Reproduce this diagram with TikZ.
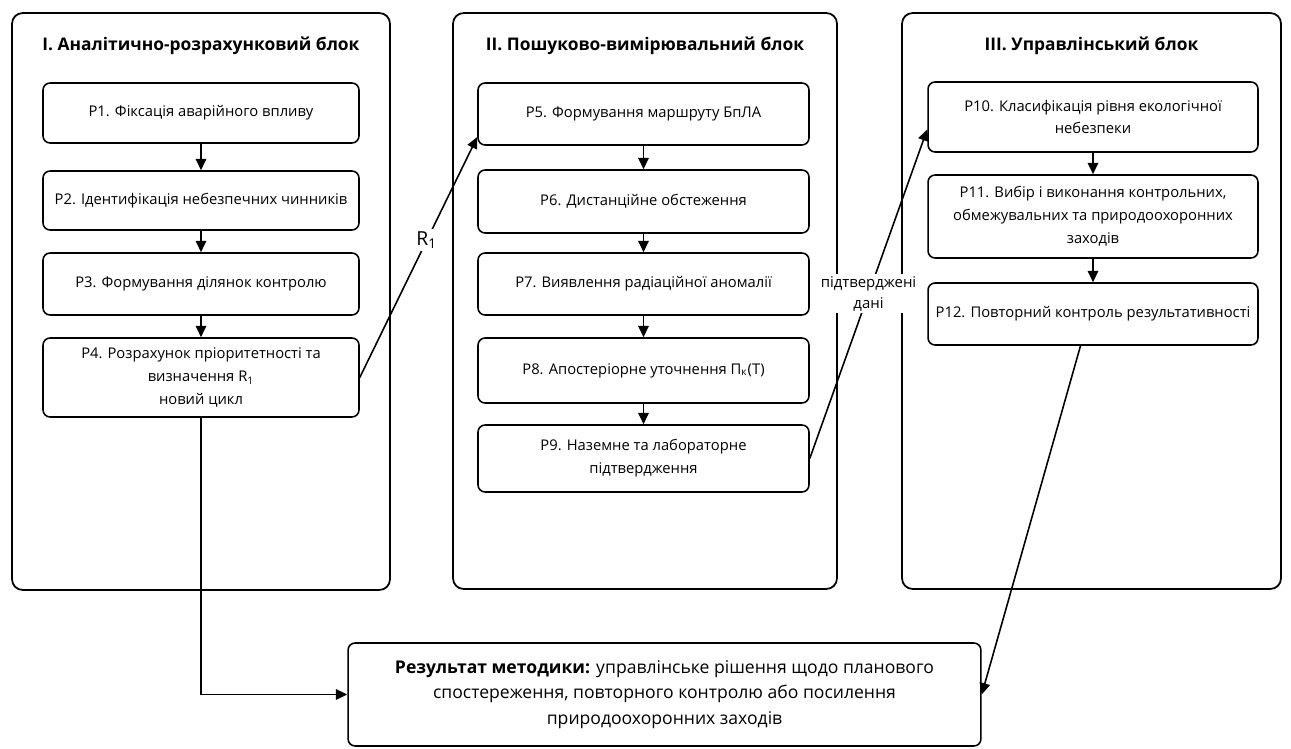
\documentclass[tikz,border=0pt]{standalone}
\usepackage{fontspec}
\setmainfont{Open Sans}
\usetikzlibrary{arrows.meta}
\tikzset{
  panel/.style={draw, line width=1pt, rounded corners=6pt, inner sep=0pt},
  proc/.style={draw, line width=0.9pt, rounded corners=4pt, align=center, inner sep=1pt,
    font=\fontsize{8.4}{13}\selectfont},
  ttl/.style={font=\bfseries\fontsize{9.9}{12}\selectfont},
  flow/.style={line width=0.9pt, -{Triangle[length=6.5pt,width=6pt]}},
  lbl/.style={fill=white, inner sep=1.5pt, align=center, font=\fontsize{8.5}{11.5}\selectfont}
}
\begin{document}
\begin{tikzpicture}[x=0.02cm, y=-0.02cm]
\useasboundingbox (0,0) rectangle (1291,749);
% blocks
\node[panel, minimum width=7.56cm, minimum height=11.54cm] (blk1) at (201,301.5) {};
\node[panel, minimum width=7.68cm, minimum height=11.52cm] (blk2) at (645,301) {};
\node[panel, minimum width=7.58cm, minimum height=11.52cm] (blk3) at (1091.5,301) {};
\node[ttl] (t1) at (201,46) {I. Аналітично-розрахунковий блок};
\node[ttl] (t2) at (645,46) {II. Пошуково-вимірювальний блок};
\node[ttl] (t3) at (1091.5,46) {III. Управлінський блок};
% block I
\node[proc, minimum width=6.32cm, minimum height=1.2cm] (p1) at (201,113) {P1. Фіксація аварійного впливу};
\node[proc, minimum width=6.32cm, minimum height=1.18cm] (p2) at (201,200.5) {P2. Ідентифікація небезпечних чинників};
\node[proc, minimum width=6.32cm, minimum height=1.24cm] (p3) at (201,284) {P3. Формування ділянок контролю};
\node[proc, minimum width=6.32cm, minimum height=1.58cm] (p4) at (201,377.5) {P4. Розрахунок пріоритетності та\\визначення R\textsubscript{1}\\новий цикл};
% block II
\node[proc, minimum width=6.62cm, minimum height=1.24cm] (p5) at (643.5,114) {P5. Формування маршруту БпЛА};
\node[proc, minimum width=6.62cm, minimum height=1.26cm] (p6) at (643.5,201.5) {P6. Дистанційне обстеження};
\node[proc, minimum width=6.62cm, minimum height=1.24cm] (p7) at (643.5,284) {P7. Виявлення радіаційної аномалії};
\node[proc, minimum width=6.62cm, minimum height=1.3cm] (p8) at (643.5,370.5) {P8. Апостеріорне уточнення П\textsubscript{к}(T)};
\node[proc, minimum width=6.62cm, minimum height=1.34cm] (p9) at (643.5,458.5) {P9. Наземне та лабораторне\\підтвердження};
% block III
\node[proc, minimum width=6.6cm, minimum height=1.4cm] (p10) at (1093,117) {P10. Класифікація рівня екологічної\\небезпеки};
\node[proc, minimum width=6.6cm, minimum height=1.66cm] (p11) at (1093,216.5) {P11. Вибір і виконання контрольних,\\обмежувальних та природоохоронних\\заходів};
\node[proc, minimum width=6.6cm, minimum height=1.24cm] (p12) at (1093,314) {P12. Повторний контроль результативності};
% result
\node[proc, minimum width=12.66cm, minimum height=2.06cm, font=\fontsize{10}{14.7}\selectfont] (res) at (664.5,694.5)
  {\textbf{Результат методики:} управлінське рішення щодо планового\\спостереження, повторного контролю або посилення\\природоохоронних заходів};
% connectors
\foreach \a/\b in {p1/p2, p2/p3, p3/p4, p5/p6, p6/p7, p7/p8, p8/p9, p10/p11, p11/p12}
  \draw[flow] (\a) -- (\b);
\draw[flow] (p4.east) -- node[lbl, pos=0.57, font=\fontsize{11}{12}\selectfont] {R\textsubscript{1}} ([yshift=5pt]p5.south west);
\draw[flow] (p9.east) -- node[lbl, pos=0.5] {підтверджені\\дані} ([yshift=-7pt]p10.west);
\draw[flow] ([xshift=-0.25cm]p12.south) -- (res.east);
\draw[flow] (p4.south) |- (res.west);
\end{tikzpicture}
\end{document}
